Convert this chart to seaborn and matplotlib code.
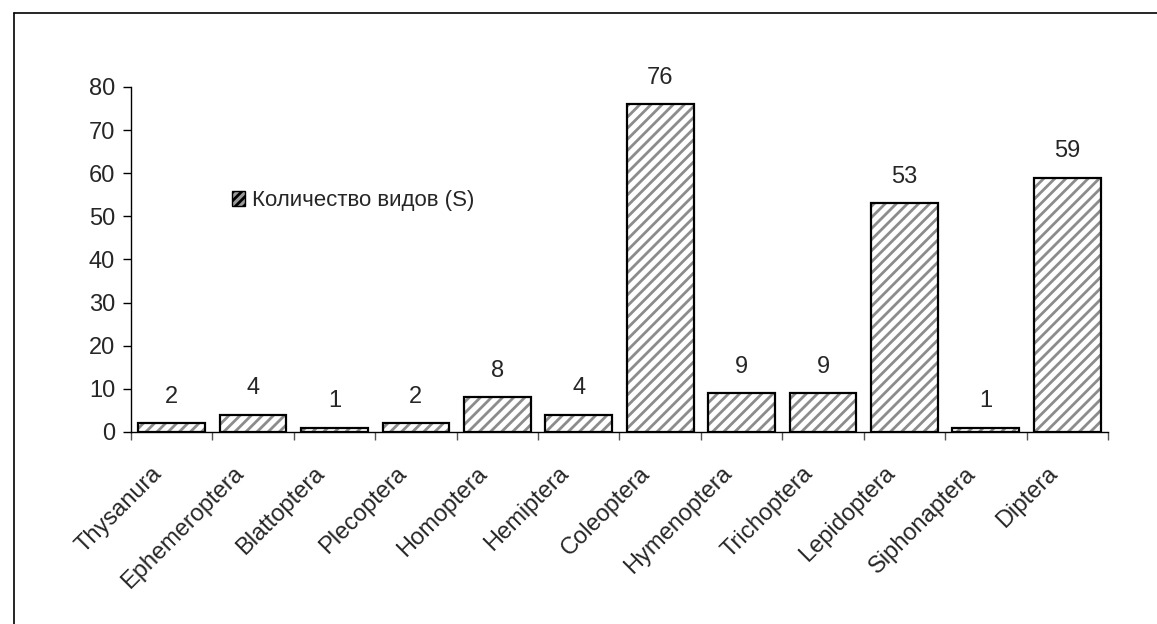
import matplotlib.pyplot as plt
import matplotlib.transforms as mtransforms
import seaborn as sns
from matplotlib.lines import Line2D
from matplotlib.patches import Patch
from matplotlib.ticker import FixedLocator

# Species count per insect order
orders = [
    "Thysanura", "Ephemeroptera", "Blattoptera", "Plecoptera", "Homoptera",
    "Hemiptera", "Coleoptera", "Hymenoptera", "Trichoptera", "Lepidoptera",
    "Siphonaptera", "Diptera",
]
species = [2, 4, 1, 2, 8, 4, 76, 9, 9, 53, 1, 59]
legend_label = "Количество видов (S)"

sns.set_style("ticks")
plt.rcParams["font.family"] = ["Liberation Sans", "DejaVu Sans"]
plt.rcParams["font.size"] = 17
plt.rcParams["hatch.linewidth"] = 2.0

fig = plt.figure(figsize=(11.57, 6.24), dpi=100)
ax = fig.add_axes([0.1132, 0.3077, 0.8444, 0.5529])

# hatched fill (hatch colour follows edge colour, so draw fill and outline separately)
sns.barplot(x=orders, y=species, ax=ax, color="white", edgecolor="#8c8c8c",
            hatch="///", linewidth=0, width=0.82, saturation=1)
sns.barplot(x=orders, y=species, ax=ax, fill=False, edgecolor="black",
            linewidth=1.6, width=0.82)

ax.bar_label(ax.containers[0], labels=[str(v) for v in species], padding=11,
             fontsize=17)

ax.set_ylim(0, 80)
ax.set_xlim(-0.5, len(orders) - 0.5)
ax.set_yticks(range(0, 81, 10))
ax.tick_params(axis="y", length=5.5, width=1, color="black", labelsize=17,
               pad=6)
ax.tick_params(axis="x", which="major", length=0, labelsize=17, pad=22)
ax.xaxis.set_minor_locator(FixedLocator([i - 0.5 for i in range(len(orders) + 1)]))
ax.tick_params(axis="x", which="minor", length=6, width=1, color="#555555")
shift = mtransforms.ScaledTranslation(-15 / 72, 0, fig.dpi_scale_trans)
for lbl in ax.get_xticklabels():
    lbl.set_rotation(45)
    lbl.set_ha("right")
    lbl.set_va("top")
    lbl.set_rotation_mode("anchor")
    lbl.set_transform(lbl.get_transform() + shift)

for side in ["top", "right"]:
    ax.spines[side].set_visible(False)
for side in ["left", "bottom"]:
    ax.spines[side].set_color("black")
    ax.spines[side].set_linewidth(1)
ax.set_xlabel("")
ax.set_ylabel("")

handle = Patch(facecolor="#9a9a9a", edgecolor="black", hatch="////",
               linewidth=1)
ax.legend(handles=[handle], labels=[legend_label], loc="center left",
          bbox_to_anchor=(0.083, 0.67), frameon=False, handlelength=0.6,
          handleheight=0.6, handletextpad=0.3, fontsize=16)

# chart-area border (top and left edges visible)
fig.add_artist(Line2D([0.0121, 1.0], [0.979, 0.979], color="black", lw=1.2,
                      transform=fig.transFigure))
fig.add_artist(Line2D([0.0121, 0.0121], [0.0, 0.979], color="black", lw=1.2,
                      transform=fig.transFigure))

fig.savefig("out.png", dpi=100)
